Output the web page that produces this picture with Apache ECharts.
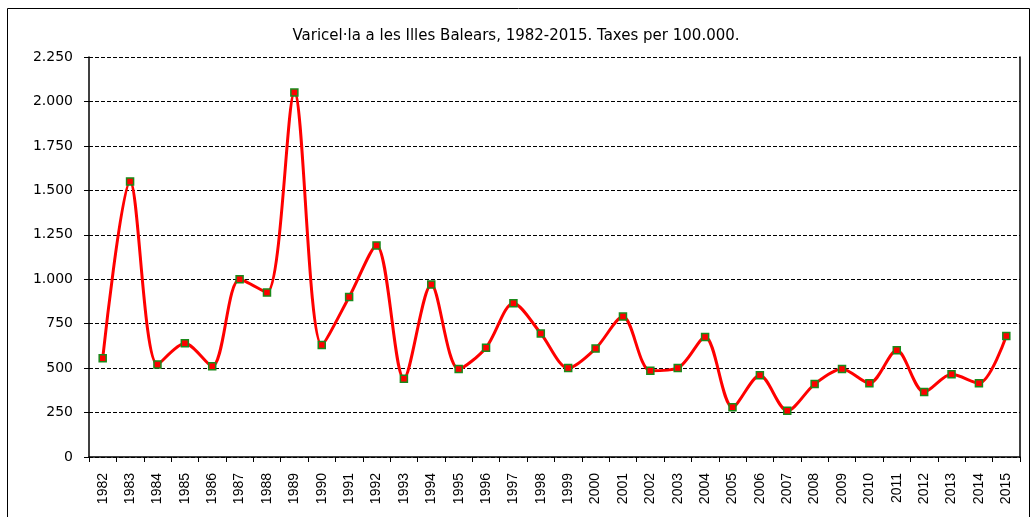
<!DOCTYPE html>
<html>
<head>
<meta charset="utf-8">
<script src="https://cdn.jsdelivr.net/npm/echarts@6/dist/echarts.min.js"></script>
<style>
  html, body { margin: 0; padding: 0; background: #fff; }
  #chart { width: 1032px; height: 517px; }
</style>
</head>
<body>
<div id="chart"></div>
<script>
// region 数据
const years = ['1982', '1983', '1984', '1985', '1986', '1987', '1988', '1989', '1990', '1991',
  '1992', '1993', '1994', '1995', '1996', '1997', '1998', '1999', '2000', '2001',
  '2002', '2003', '2004', '2005', '2006', '2007', '2008', '2009', '2010', '2011',
  '2012', '2013', '2014', '2015']
const rates = [555, 1550, 520, 640, 510, 1000, 925, 2050, 630, 900,
  1190, 440, 970, 495, 615, 865, 695, 500, 610, 790,
  485, 500, 675, 280, 460, 260, 410, 495, 415, 600,
  365, 465, 415, 680]
const titleText = 'Varicel·la a les Illes Balears, 1982-2015. Taxes per 100.000.'
// endregion

const wideFont = 'DejaVu Sans, Verdana, sans-serif'
const font = 'Liberation Sans, Arial, sans-serif'
const fmt = (v) => String(v).replace(/\B(?=(\d{3})+(?!\d))/g, '.')

const chart = echarts.init(document.getElementById('chart'))
chart.setOption({
  animation: false,
  textStyle: { fontFamily: font },
  title: {
    text: titleText,
    left: 'center',
    top: 24,
    textStyle: { fontSize: 15, fontWeight: 'normal', color: '#000', fontFamily: wideFont },
  },
  graphic: [
    {
      type: 'rect',
      shape: { x: 7.5, y: 8.5, width: 1022, height: 520 },
      style: { fill: 'none', stroke: '#000', lineWidth: 1 },
      silent: true,
    },
  ],
  grid: { left: 89, right: 12, top: 57, bottom: 60 },
  xAxis: {
    type: 'category',
    data: years,
    boundaryGap: true,
    axisLine: { lineStyle: { color: '#000', width: 1.5 } },
    axisTick: { show: true, length: 5, lineStyle: { color: '#000' } },
    axisLabel: { rotate: 90, color: '#000', fontSize: 14, margin: 16, fontFamily: font, interval: 0 },
    splitLine: { show: false },
  },
  yAxis: [
    {
      type: 'value',
      min: 0,
      max: 2250,
      interval: 250,
      axisLine: { show: true, lineStyle: { color: '#000', width: 1.5 } },
      axisTick: { show: true, length: 5, lineStyle: { color: '#000' } },
      axisLabel: { color: '#000', fontSize: 14, margin: 16, fontFamily: wideFont, formatter: fmt },
      splitLine: { show: true, lineStyle: { color: '#000', type: [4, 2], width: 1 } },
    },
    {
      type: 'value',
      position: 'right',
      min: 0,
      max: 2250,
      interval: 250,
      axisLine: { show: true, lineStyle: { color: '#000', width: 1.5 } },
      axisTick: { show: false },
      axisLabel: { show: false },
      splitLine: { show: false },
    },
  ],
  series: [
    {
      type: 'line',
      data: rates,
      smooth: 0.3,
      symbol: 'rect',
      symbolSize: 7,
      itemStyle: { color: '#ff0000', borderColor: '#1a8a1a', borderWidth: 1.5 },
      lineStyle: { color: '#ff0000', width: 3 },
    },
  ],
})
</script>
</body>
</html>
